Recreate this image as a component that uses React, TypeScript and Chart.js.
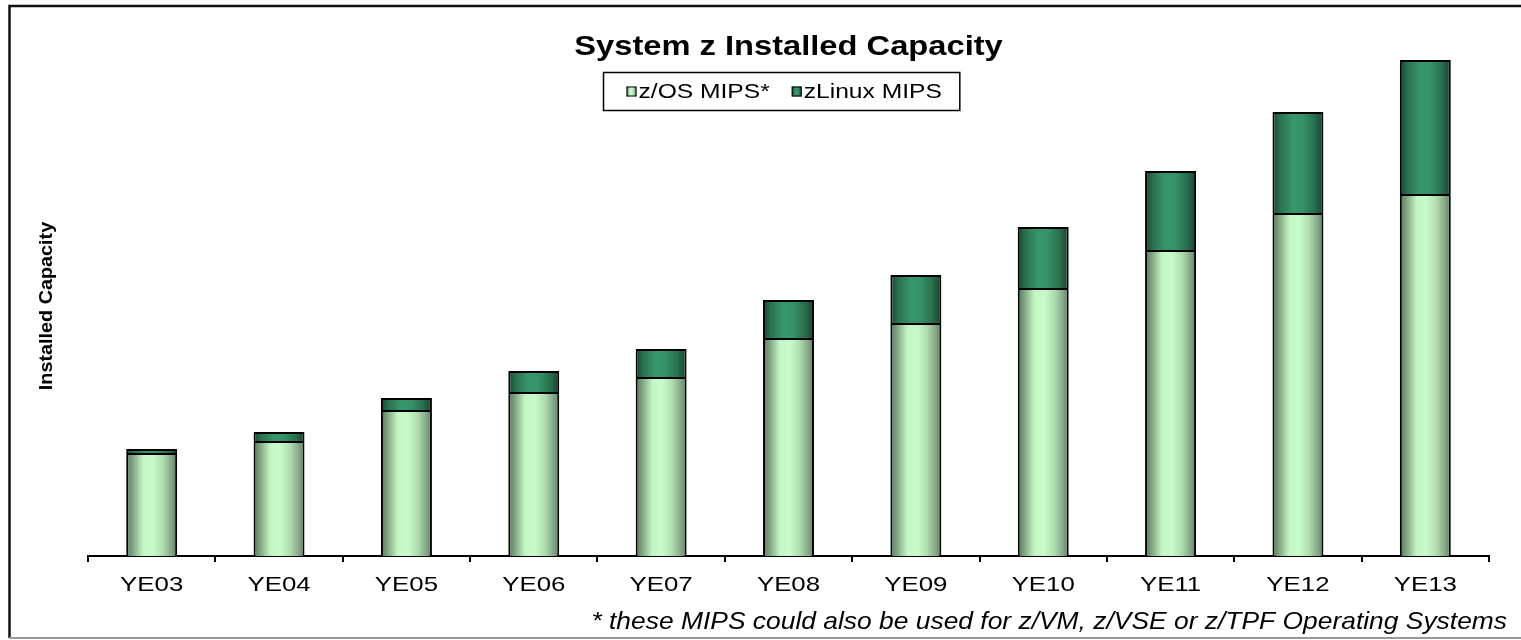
import { useEffect, useRef } from "react";
import { Chart, registerables } from "chart.js";

Chart.register(...registerables);

// ---------- data ----------
const categories = ["YE03", "YE04", "YE05", "YE06", "YE07", "YE08", "YE09", "YE10", "YE11", "YE12", "YE13"];
const zosMips = [103, 115, 146, 164, 179, 218, 233, 268, 306, 343, 362];
const zlinuxMips = [4, 9, 12, 21, 28, 38, 48, 61, 79, 101, 134];
const seriesLabels = ["z/OS MIPS*", "zLinux MIPS"];
const chartTitle = "System z Installed Capacity";
const yAxisTitle = "Installed Capacity";
const footnote = "* these MIPS could also be used for z/VM, z/VSE or z/TPF Operating Systems";
const yMax = 500;

// ---------- styles ----------
const FONT = "'Liberation Sans', Arial, Helvetica, sans-serif";
const BAR_PCT = 0.4;
const zosStops: [number, string][] = [
  [0, "#557659"],
  [0.12, "#7ca180"],
  [0.33, "#c4f5c4"],
  [0.52, "#c9fbc9"],
  [0.72, "#b0dcb0"],
  [0.9, "#80a483"],
  [1, "#5c7c60"],
];
const linuxStops: [number, string][] = [
  [0, "#1a432d"],
  [0.15, "#287250"],
  [0.4, "#37976b"],
  [0.58, "#35936a"],
  [0.82, "#29704f"],
  [1, "#19412c"],
];

function grad(ctx: CanvasRenderingContext2D, x0: number, x1: number, stops: [number, string][]) {
  const g = ctx.createLinearGradient(x0, 0, x1, 0);
  stops.forEach(([o, c]) => g.addColorStop(o, c));
  return g;
}

const barFill = (stops: [number, string][]) => (c: any) => {
  const chart = c.chart;
  const xs = chart.scales && chart.scales.x;
  if (!xs || c.dataIndex === undefined || !isFinite(xs.width) || xs.width <= 0) return stops[3][1];
  const center = xs.getPixelForValue(c.dataIndex);
  const half = ((xs.width / categories.length) * BAR_PCT) / 2;
  return grad(chart.ctx, center - half, center + half, stops);
};

// horizontal text widening (the reference renders its text wide)
function sxFor(font: string) {
  if (font.indexOf("italic") >= 0) return 1.1;
  if (/\b18px/.test(font)) return 1.1;
  if (/\b27px/.test(font)) return 1.21;
  return 1.23;
}
function patchText(ctx: any) {
  if (ctx.__patched) return;
  ctx.__patched = true;
  const fill = ctx.fillText.bind(ctx);
  const measure = ctx.measureText.bind(ctx);
  ctx.fillText = (t: string, x: number, y: number, mw?: number) => {
    const s = sxFor(ctx.font);
    ctx.save();
    ctx.translate(x, y);
    ctx.scale(s, 1);
    if (mw === undefined || mw === null) fill(t, 0, 0);
    else fill(t, 0, 0, mw / s);
    ctx.restore();
  };
  ctx.measureText = (t: string) => {
    const m = measure(t);
    const s = sxFor(ctx.font);
    return {
      width: m.width * s,
      actualBoundingBoxLeft: m.actualBoundingBoxLeft * s,
      actualBoundingBoxRight: m.actualBoundingBoxRight * s,
      actualBoundingBoxAscent: m.actualBoundingBoxAscent,
      actualBoundingBoxDescent: m.actualBoundingBoxDescent,
      fontBoundingBoxAscent: m.fontBoundingBoxAscent,
      fontBoundingBoxDescent: m.fontBoundingBoxDescent,
    };
  };
}

const decorPlugin = {
  id: "decor",
  afterDraw(chart: any) {
    const ctx: CanvasRenderingContext2D = chart.ctx;
    const W = chart.width;
    const H = chart.height;
    const ca = chart.chartArea;
    ctx.save();
    // frame
    ctx.strokeStyle = "#111";
    ctx.lineWidth = 2.5;
    ctx.beginPath();
    ctx.moveTo(9.5, H - 2);
    ctx.lineTo(9.5, 6);
    ctx.lineTo(W + 2, 6);
    ctx.stroke();
    ctx.strokeStyle = "#999";
    ctx.lineWidth = 2;
    ctx.beginPath();
    ctx.moveTo(9, H - 2);
    ctx.lineTo(W + 2, H - 2);
    ctx.stroke();

    // legend
    ctx.font = `20px ${FONT}`;
    const sq = 10;
    const gapText = 2;
    const itemGap = 22;
    const padL = 23;
    const padR = 18;
    const ds = chart.data.datasets;
    const widths = ds.map((d: any) => ctx.measureText(d.label).width);
    let total = padL + padR + itemGap * (ds.length - 1);
    widths.forEach((w: number) => (total += sq + gapText + w));
    const cx = (ca.left + ca.right) / 2 - 7;
    const left = Math.round(cx - total / 2) + 0.5;
    const top = Math.round(ca.top + 16) + 0.5;
    const h = 38;
    ctx.lineWidth = 1.5;
    ctx.strokeStyle = "#000";
    ctx.strokeRect(left, top, total, h);
    let x = left + padL;
    const cy = top + h / 2;
    ds.forEach((d: any, i: number) => {
      const stops = i === 0 ? zosStops : linuxStops;
      ctx.fillStyle = grad(ctx, x, x + sq, stops);
      ctx.fillRect(x, cy - sq / 2, sq, sq);
      ctx.lineWidth = 1;
      ctx.strokeStyle = "#000";
      ctx.strokeRect(x + 0.5, cy - sq / 2 + 0.5, sq - 1, sq - 1);
      x += sq + gapText;
      ctx.fillStyle = "#000";
      ctx.textAlign = "left";
      ctx.textBaseline = "middle";
      ctx.fillText(d.label, x, cy + 1);
      x += widths[i] + itemGap;
    });

    // footnote
    ctx.font = `italic 24px ${FONT}`;
    ctx.fillStyle = "#000";
    ctx.textAlign = "right";
    ctx.textBaseline = "middle";
    ctx.fillText(footnote, W - 14, H - 18);
    ctx.restore();
  },
};

export default function App() {
  const ref = useRef<HTMLCanvasElement | null>(null);
  useEffect(() => {
    const canvas = ref.current;
    if (!canvas) return;
    const ctx = canvas.getContext("2d");
    patchText(ctx);
    const chart = new Chart(canvas, {
      type: "bar",
      data: {
        labels: categories,
        datasets: [
          {
            label: seriesLabels[0],
            data: zosMips,
            backgroundColor: barFill(zosStops),
            borderColor: "#000",
            borderWidth: 2,
            borderSkipped: "start",
            categoryPercentage: 1,
            barPercentage: BAR_PCT,
            stack: "s",
          },
          {
            label: seriesLabels[1],
            data: zlinuxMips,
            backgroundColor: barFill(linuxStops),
            borderColor: "#000",
            borderWidth: 2,
            borderSkipped: "bottom",
            categoryPercentage: 1,
            barPercentage: BAR_PCT,
            stack: "s",
          },
        ],
      },
      options: {
        responsive: false,
        animation: false,
        devicePixelRatio: 1,
        layout: { padding: { left: 32, right: 32, top: 0, bottom: 24 } },
        plugins: {
          legend: { display: false },
          tooltip: { enabled: false },
          title: {
            display: true,
            text: chartTitle,
            fullSize: false,
            color: "#000",
            font: { family: FONT, size: 27, weight: "bold", lineHeight: "16px" },
            padding: { top: 40, bottom: 0 },
          },
        },
        scales: {
          x: {
            stacked: true,
            offset: true,
            grid: {
              display: true,
              offset: true,
              drawOnChartArea: false,
              drawTicks: true,
              tickLength: 6,
              color: "#000",
              lineWidth: 2,
            },
            border: { display: true, color: "#000", width: 2 },
            ticks: { color: "#000", font: { family: FONT, size: 21 }, padding: 11, maxRotation: 0, autoSkip: false },
            afterFit: (s: any) => {
              s.height = 60;
            },
          },
          y: {
            stacked: true,
            min: 0,
            max: yMax,
            grid: { display: false },
            border: { display: false },
            ticks: { display: false },
            title: {
              display: true,
              text: yAxisTitle,
              color: "#000",
              font: { family: FONT, size: 18, weight: "bold" },
              padding: { top: 4, bottom: 4 },
            },
            afterFit: (s: any) => {
              s.width = 56;
            },
          },
        },
      },
      plugins: [decorPlugin],
    } as any);
    return () => chart.destroy();
  }, []);
  return (
    <div style={{ position: "fixed", left: 0, top: 0, width: 1521, height: 640, overflow: "hidden", background: "#fff" }}>
      <canvas ref={ref} width={1521} height={640} style={{ display: "block", width: 1521, height: 640 }} />
    </div>
  );
}
